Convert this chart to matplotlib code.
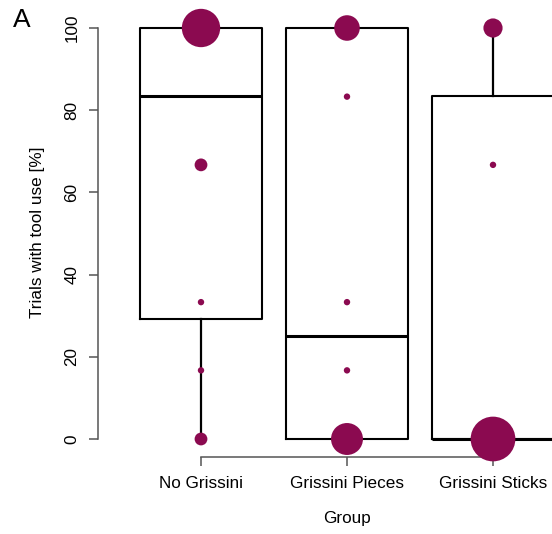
import matplotlib
matplotlib.use("Agg")
import matplotlib.pyplot as plt
import numpy as np

plt.rcParams['font.family'] = ['Liberation Sans', 'DejaVu Sans']

groups = ["No Grissini", "Grissini Pieces", "Grissini Sticks"]
# values (% trials with tool use) and number of individuals at each value
values = [
    [0, 16.7, 33.3, 66.7, 100],
    [0, 16.7, 33.3, 83.3, 100],
    [0, 66.7, 100],
]
counts = [
    [2, 1, 1, 2, 6],
    [5, 1, 1, 1, 4],
    [7, 1, 3],
]
yticks = [0, 20, 40, 60, 80, 100]
color = "#8B0A50"

fig = plt.figure(figsize=(5.52, 5.34), dpi=100)
ax = fig.add_axes([98/552, (534-457)/534, 1 - 98/552, (457-10)/534])
ax.set_xlim(1 - (201-98)/146, 1 + (552-201)/146)
ax.set_ylim(-(457-439)/4.11, 100 + (28-10)/4.11)

for i, (v, c) in enumerate(zip(values, counts)):
    pos = i + 1
    data = np.repeat(v, c)
    ax.boxplot(data, positions=[pos], widths=0.84, whis=1.5,
               showfliers=False, showcaps=False, manage_ticks=False,
               boxprops=dict(color="black", linewidth=1.5),
               whiskerprops=dict(color="black", linewidth=1.6, linestyle="-"),
               medianprops=dict(color="black", linewidth=2.2),
               zorder=2)
    ax.scatter([pos]*len(v), v, s=(4.6*np.array(c))**2, color=color,
               edgecolors="none", zorder=5, clip_on=False)

for s in ["top", "right"]:
    ax.spines[s].set_visible(False)
ax.spines["left"].set_bounds(0, 100)
ax.spines["bottom"].set_bounds(1, 3)
for s in ["left", "bottom"]:
    ax.spines[s].set_color("#555555")
    ax.spines[s].set_linewidth(1.1)

ax.set_yticks(yticks)
ax.set_yticklabels([str(t) for t in yticks], rotation=90, va="center", fontsize=12.3)
ax.set_xticks([1, 2, 3])
ax.set_xticklabels(groups, fontsize=12.3)
ax.tick_params(axis="both", color="#555555", width=1.1, length=6.5)
ax.tick_params(axis="y", pad=7)
ax.tick_params(axis="x", pad=7)

fig.text(38/552, 1 - 232/534, "Trials with tool use [%]", rotation=90,
         ha="center", va="center", fontsize=12.3)
fig.text(347/552, 1 - 518/534, "Group", ha="center", va="center", fontsize=12.3)
fig.text(22/552, 1 - 20/534, "A", ha="center", va="center", fontsize=19)

fig.savefig("out.png", dpi=100)
